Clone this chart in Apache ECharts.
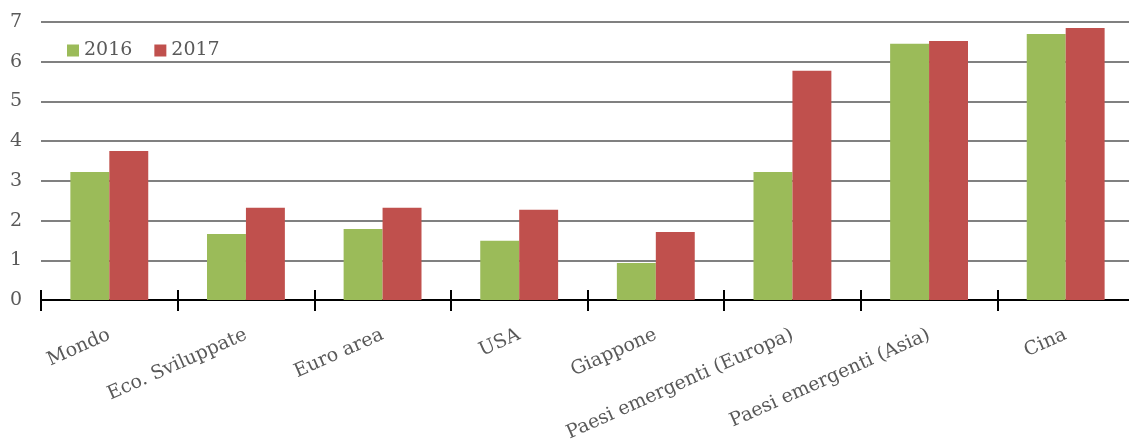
<!DOCTYPE html>
<html>
<head>
<meta charset="utf-8">
<script src="https://cdn.jsdelivr.net/npm/echarts@6/dist/echarts.min.js"></script>
<style>
  html, body { margin: 0; padding: 0; background: #fff; }
  #gdp-bar { width: 1129px; height: 441px; }
</style>
</head>
<body>
<div id="gdp-bar"></div>
<script>
// categorie e valori
const categories = [
  'Mondo',
  'Eco. Sviluppate',
  'Euro area',
  'USA',
  'Giappone',
  'Paesi emergenti (Europa)',
  'Paesi emergenti (Asia)',
  'Cina'
]
const values2016 = [3.22, 1.66, 1.79, 1.49, 0.93, 3.22, 6.45, 6.70]
const values2017 = [3.75, 2.32, 2.32, 2.27, 1.71, 5.77, 6.52, 6.85]
const yTicks = [0, 1, 2, 3, 4, 5, 6, 7]

const font = 'DejaVu Serif'
const grey = '#595959'

let myChart = echarts.init(document.getElementById('gdp-bar'))
myChart.setOption({
  animation: false,
  textStyle: { fontFamily: font },
  legend: {
    left: 62,
    top: 36,
    icon: 'rect',
    itemWidth: 12,
    itemHeight: 12,
    itemGap: 22,
    textStyle: { fontFamily: font, fontSize: 19, color: grey }
  },
  grid: {
    left: 41,
    right: -5,
    top: 22,
    bottom: 141,
    containLabel: false,
    outerBoundsMode: 'none'
  },
  xAxis: [
    {
      type: 'category',
      data: categories,
      boundaryGap: true,
      axisLine: { show: true, lineStyle: { color: '#000', width: 2 } },
      axisTick: { show: false },
      axisLabel: {
        interval: 0,
        rotate: 24,
        margin: 34,
        fontFamily: font,
        fontSize: 19,
        color: grey
      }
    },
    {
      // axis spostato in su: solo per le tacche che attraversano la linea
      type: 'category',
      data: categories,
      position: 'bottom',
      offset: -10,
      boundaryGap: true,
      axisLine: { show: false },
      axisTick: { show: true, interval: 0, length: 21, lineStyle: { color: '#000', width: 2 } },
      axisLabel: { show: false, interval: 0 }
    }
  ],
  yAxis: {
    type: 'value',
    min: yTicks[0],
    max: yTicks[yTicks.length - 1],
    interval: 1,
    axisLine: { show: false },
    axisTick: { show: false },
    axisLabel: { margin: 19, fontFamily: font, fontSize: 19, color: grey },
    splitLine: { lineStyle: { color: '#808080', width: 2 } }
  },
  series: [
    {
      name: '2016',
      type: 'bar',
      data: values2016,
      barGap: 0,
      barCategoryGap: '43%',
      itemStyle: { color: '#9BBB59' }
    },
    {
      name: '2017',
      type: 'bar',
      data: values2017,
      barGap: 0,
      barCategoryGap: '43%',
      itemStyle: { color: '#C0504D' }
    }
  ]
})
</script>
</body>
</html>
